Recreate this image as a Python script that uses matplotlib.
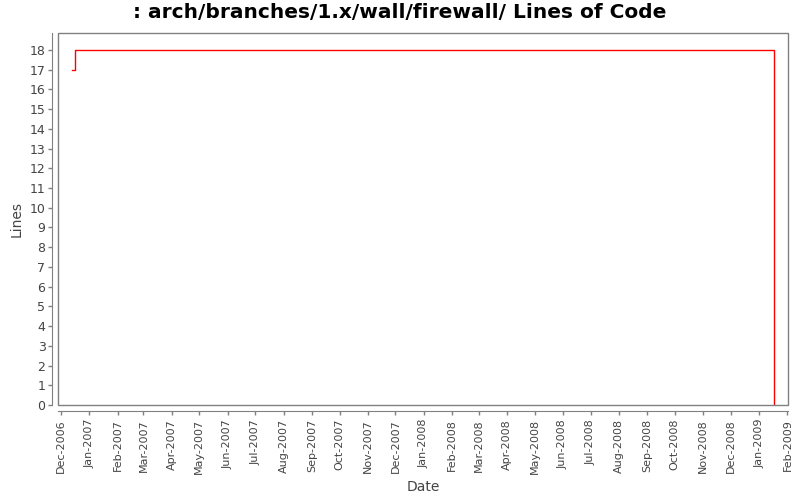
import matplotlib
matplotlib.use("Agg")
import matplotlib.pyplot as plt
import matplotlib.dates as mdates
from matplotlib.patches import Rectangle
import datetime as dt

dates = ["2006-12-13", "2006-12-16", "2009-01-17"]
lines = [17, 18, 0]
tick_months = ["2006-12-01", "2007-01-01", "2007-02-01", "2007-03-01", "2007-04-01",
               "2007-05-01", "2007-06-01", "2007-07-01", "2007-08-01", "2007-09-01",
               "2007-10-01", "2007-11-01", "2007-12-01", "2008-01-01", "2008-02-01",
               "2008-03-01", "2008-04-01", "2008-05-01", "2008-06-01", "2008-07-01",
               "2008-08-01", "2008-09-01", "2008-10-01", "2008-11-01", "2008-12-01",
               "2009-01-01", "2009-02-01"]
title = ": arch/branches/1.x/wall/firewall/ Lines of Code"

x = [dt.datetime.strptime(d, "%Y-%m-%d") for d in dates]
ticks = [dt.datetime.strptime(d, "%Y-%m-%d") for d in tick_months]

fig = plt.figure(figsize=(8, 5), dpi=100)
ax = fig.add_axes([58/800, 1-405/500, 730/800, 372/500])
ax.plot(x, lines, drawstyle="steps-post", color="#ff0000", lw=1.0)

ax.set_xlim(dt.datetime(2006, 11, 27, 17), dt.datetime(2009, 2, 1, 14))
ax.set_ylim(0, 18.86)
ax.set_yticks(range(0, 19))
ax.set_xticks(ticks)
ax.xaxis.set_major_formatter(mdates.DateFormatter("%b-%Y"))

gray = "#808080"
for s in ["top", "right"]:
    ax.spines[s].set_visible(False)
for s in ["left", "bottom"]:
    ax.spines[s].set_position(("outward", 4))
    ax.spines[s].set_color(gray)
ax.add_patch(Rectangle((0, 0), 1, 1, transform=ax.transAxes, fill=False,
                       edgecolor=gray, lw=1.0, clip_on=False, zorder=3))

ax.tick_params(axis="both", colors=gray, length=3, width=1, labelcolor="#444444")
ax.tick_params(axis="x", labelrotation=90, pad=3, labelsize=8)
ax.tick_params(axis="y", pad=2, labelsize=9)

ax.set_xlabel("Date", fontsize=10, color="#444444", labelpad=4)
ax.set_ylabel("Lines", fontsize=10, color="#444444", labelpad=4)
fig.text(0.5, 1-13/500, title, ha="center", va="center", fontsize=14.5,
         fontweight="bold", color="black")

fig.savefig("out.png", dpi=100)
